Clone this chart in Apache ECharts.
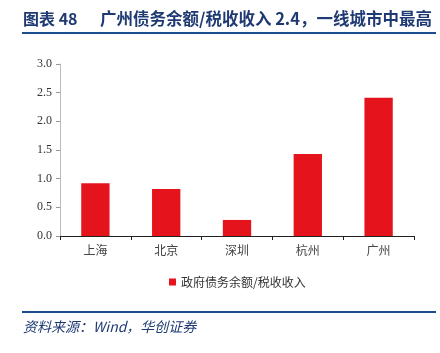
<!DOCTYPE html>
<html><head><meta charset="utf-8">
<script src="https://cdn.jsdelivr.net/npm/echarts@6/dist/echarts.min.js"></script>
<style>html,body{margin:0;padding:0;background:#fff}#c{width:440px;height:353px}</style>
</head><body><div id="c"></div>
<script>
const categories = ['上海', '北京', '深圳', '杭州', '广州'];
const values = [0.92, 0.82, 0.28, 1.43, 2.41];
const seriesName = '政府债务余额/税收收入';
const titleLabel = '图表 48';
const titleText = '广州债务余额/税收收入 2.4，一线城市中最高';
const sourceText = '资料来源：Wind，华创证券';

const chart = echarts.init(document.getElementById('c'), null, {renderer: 'canvas'});
chart.setOption({
  animation: false,
  backgroundColor: '#fff',
  grid: {left: 60, right: 26, top: 64, bottom: 117},
  legend: {
    data: [seriesName], top: 271, left: 164,
    itemWidth: 7, itemHeight: 7, itemGap: 3,
    icon: 'rect',
    textStyle: {fontSize: 12, color: '#333', fontFamily: 'Noto Sans CJK SC'}
  },
  xAxis: {
    type: 'category', data: categories,
    axisLine: {lineStyle: {color: '#222', width: 1}},
    axisTick: {show: true, length: 4, lineStyle: {color: '#222'}},
    axisLabel: {fontSize: 12, color: '#444', margin: 8, fontFamily: 'Noto Sans CJK SC'}
  },
  yAxis: {
    type: 'value', min: 0, max: 3, interval: 0.5,
    axisLine: {show: true, lineStyle: {color: '#bbb'}},
    axisTick: {show: true, length: 4, lineStyle: {color: '#999'}},
    splitLine: {show: false},
    axisLabel: {fontSize: 12, color: '#333', margin: 8, fontFamily: 'Liberation Serif',
      formatter: v => v.toFixed(1)}
  },
  series: [{
    name: seriesName, type: 'bar', data: values, barWidth: '40%',
    itemStyle: {color: '#e5131c'}
  }],
  graphic: [
    {type: 'text', left: 23, top: 11, style: {text: titleLabel, font: 'bold 16px "Noto Sans CJK SC"', fill: '#1f3a73'}},
    {type: 'text', left: 100, top: 10, style: {text: titleText, font: 'bold 16.5px "Noto Sans CJK SC"', fill: '#1f3a73'}},
    {type: 'rect', shape: {x: 22, y: 32, width: 414, height: 2}, style: {fill: '#1c4e8f'}},
    {type: 'rect', shape: {x: 22, y: 311, width: 414, height: 2}, style: {fill: '#1c4e8f'}},
    {type: 'text', left: 23, top: 320, style: {text: sourceText, font: 'italic 14px "Noto Sans CJK SC"', fill: '#1f3a73'}}
  ]
});
</script></body></html>
